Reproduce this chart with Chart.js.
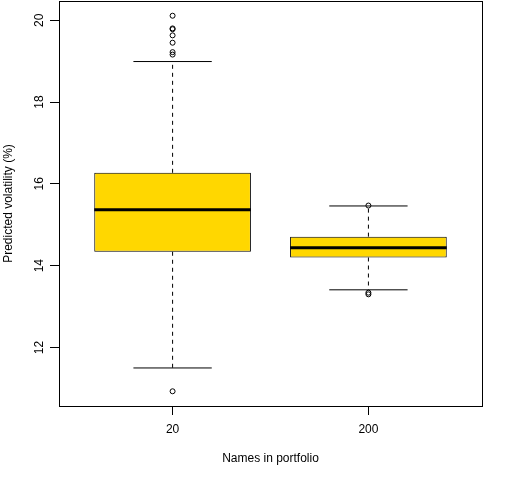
<!DOCTYPE html>
<html>
<head>
<meta charset="utf-8">
<script src="https://cdn.jsdelivr.net/npm/chart.js@4/dist/chart.umd.min.js"></script>
<style>
  html, body { margin: 0; padding: 0; background: #fff; }
  canvas { display: block; }
</style>
</head>
<body>
<canvas id="chart" width="512" height="480"></canvas>
<script>
// box statistics, one value per group
const groups = ['20', '200'];
const lowerWhisker = [11.50, 13.41];
const lowerHinge = [14.34, 14.20];
const medians = [15.37, 14.44];
const upperHinge = [16.27, 14.71];
const upperWhisker = [18.99, 15.46];
const outliers20 = [20.11, 19.80, 19.78, 19.63, 19.45, 19.22, 19.16, 10.93];
const outliers200 = [15.47, 13.34, 13.30];
const yTicks = [12, 14, 16, 18, 20];

const outliers = [outliers20, outliers200];
const BOX_HALF = 0.4;     // R boxwex 0.8
const CAP_HALF = 0.2;     // staple half width
const FONT = { family: '"Liberation Sans", Arial, sans-serif', size: 12 };

function segment(points, extra) {
    return Object.assign({
        type: 'line',
        data: points,
        borderColor: '#000',
        borderWidth: 1,
        pointRadius: 0,
        fill: false,
        tension: 0,
        order: 2
    }, extra || {});
}

let datasets = [];

// boxes as floating bars
datasets.push({
    type: 'bar',
    data: groups.map((g, i) => ({ x: i + 1, y: [lowerHinge[i], upperHinge[i]] })),
    backgroundColor: '#FFD700',
    borderColor: '#000',
    borderWidth: 1,
    borderSkipped: false,
    barPercentage: 0.8,
    categoryPercentage: 1.0,
    order: 1
});

groups.forEach((g, i) => {
    const c = i + 1;
    // dashed whiskers
    datasets.push(segment([{ x: c, y: upperHinge[i] }, { x: c, y: upperWhisker[i] }], { borderDash: [4, 4] }));
    datasets.push(segment([{ x: c, y: lowerHinge[i] }, { x: c, y: lowerWhisker[i] }], { borderDash: [4, 4] }));
    // staples
    datasets.push(segment([{ x: c - CAP_HALF, y: upperWhisker[i] }, { x: c + CAP_HALF, y: upperWhisker[i] }]));
    datasets.push(segment([{ x: c - CAP_HALF, y: lowerWhisker[i] }, { x: c + CAP_HALF, y: lowerWhisker[i] }]));
    // median
    datasets.push(segment([{ x: c - BOX_HALF, y: medians[i] }, { x: c + BOX_HALF, y: medians[i] }], { borderWidth: 3, order: 0 }));
    // outliers
    datasets.push({
        type: 'line',
        showLine: false,
        data: outliers[i].map(v => ({ x: c, y: v })),
        pointRadius: 2.5,
        pointBackgroundColor: 'rgba(0,0,0,0)',
        pointBorderColor: '#000',
        pointBorderWidth: 1,
        order: 0
    });
});

const frame = {
    id: 'frame',
    afterDraw(chart) {
        const { ctx, chartArea: a } = chart;
        ctx.save();
        ctx.strokeStyle = '#000';
        ctx.lineWidth = 1;
        const l = Math.round(a.left) + 0.5, t = Math.round(a.top) + 0.5;
        const r = Math.round(a.right) + 0.5, b = Math.round(a.bottom) + 0.5;
        ctx.strokeRect(l, t, r - l, b - t);
        ctx.restore();
    }
};

new Chart(document.getElementById('chart'), {
    type: 'bar',
    data: { datasets: datasets },
    plugins: [frame],
    options: {
        responsive: false,
        animation: false,
        layout: { autoPadding: false, padding: { top: 1, right: 30, left: 0, bottom: 0 } },
        plugins: {
            legend: { display: false },
            tooltip: { enabled: false }
        },
        scales: {
            x: {
                type: 'linear',
                min: 0.42,
                max: 2.58,
                offset: false,
                afterBuildTicks: s => { s.ticks = groups.map((g, i) => ({ value: i + 1 })); },
                afterFit: s => { s.height = 74; s.paddingLeft = 0; s.paddingRight = 0; },
                grid: { display: true, offset: false, drawOnChartArea: false, tickLength: 9, color: '#000' },
                border: { display: true, color: '#000', width: 1 },
                ticks: {
                    autoSkip: false,
                    maxRotation: 0,
                    padding: 7,
                    color: '#000',
                    font: FONT,
                    callback: (v, i) => groups[i]
                },
                title: {
                    display: true,
                    text: 'Names in portfolio',
                    color: '#000',
                    font: FONT,
                    padding: { top: 0, bottom: 14 }
                }
            },
            y: {
                type: 'linear',
                min: 10.57,
                max: 20.47,
                afterBuildTicks: s => { s.ticks = yTicks.map(v => ({ value: v })); },
                afterFit: s => { s.width = 59; s.paddingTop = 0; s.paddingBottom = 0; },
                grid: { display: true, drawOnChartArea: false, tickLength: 9, color: '#000' },
                border: { display: true, color: '#000', width: 1 },
                ticks: {
                    minRotation: 90,
                    maxRotation: 90,
                    crossAlign: 'center',
                    padding: 4,
                    color: '#000',
                    font: FONT
                },
                title: {
                    display: true,
                    text: 'Predicted volatility (%)',
                    color: '#000',
                    font: FONT,
                    padding: { top: 1, bottom: 0 }
                }
            }
        }
    }
});
</script>
</body>
</html>
